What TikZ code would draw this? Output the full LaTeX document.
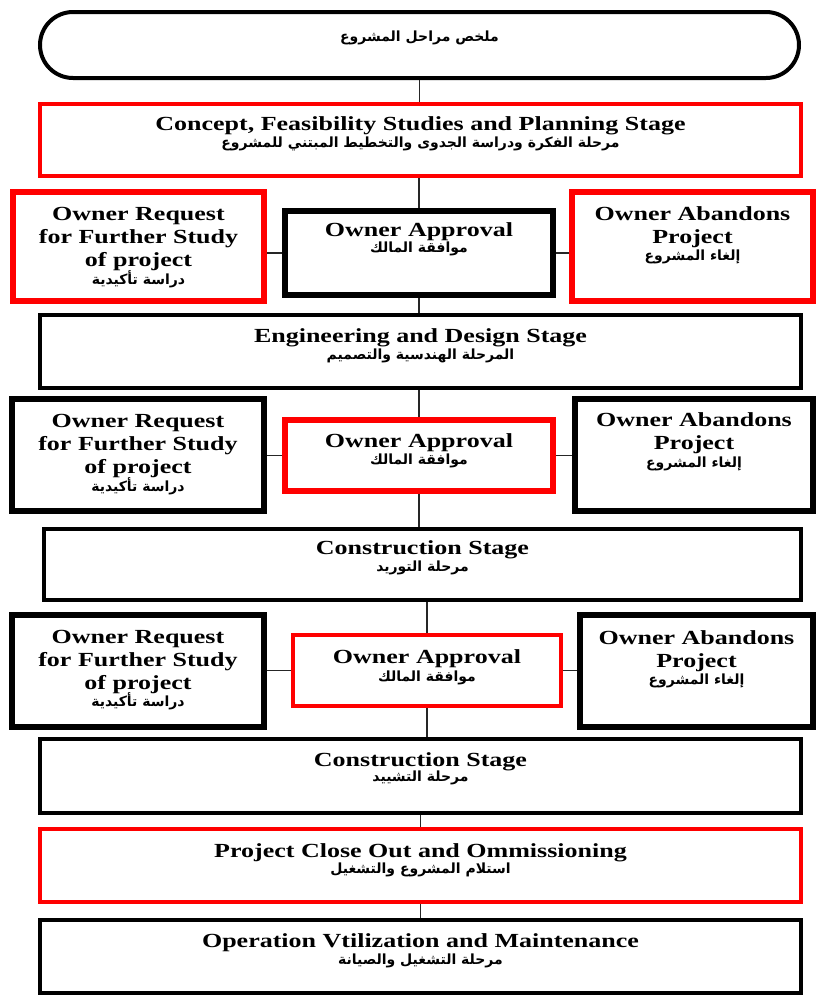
\documentclass[tikz,border=0pt]{standalone}
\usepackage{fontspec}
\setmainfont{Liberation Serif}
\newfontfamily\enfont[FakeStretch=1.3]{Liberation Serif}
\newfontfamily\arfont[Script=Arabic]{DejaVu Sans}
\TeXXeTstate=1
\newcommand\entxt{\enfont\bfseries\fontsize{15}{17.25}\selectfont}
\newcommand\artxt{\arfont\bfseries\fontsize{10.5}{12}\selectfont}
\newcommand\ar[1]{{\artxt\beginR #1\endR}}

\begin{document}
\begin{tikzpicture}[x=0.75pt,y=-0.75pt,
  box/.style 2 args={rectangle, draw, inner sep=0pt,
    minimum width=#1*0.75pt, minimum height=#2*0.75pt},
  blackbox/.style={line width=3.6pt, draw=black},
  redbox/.style={line width=3.6pt, draw=red},
  sidebox/.style={line width=4.2pt},
  entext/.style={inner sep=0pt, align=center, font=\entxt},
  artext/.style={inner sep=0pt},
  link/.style={line width=1.1pt, draw=black!85}]

\useasboundingbox (0,0) rectangle (820,996);
\fill[white] (0,0) rectangle (820,996);

% title
\node[box={759}{66}, line width=3pt, rounded corners=24.75pt] (title) at (419.5,45) {};
\node[artext] (titlet) at (419.5,38) {\ar{ملخص مراحل المشروع}};

% stage 1
\node[box={761}{72}, redbox] (s1) at (420.5,140) {};
\node[entext] (s1en) at (420.5,126) {Concept, Feasibility Studies and Planning Stage};
\node[artext] (s1ar) at (420.5,144) {\ar{مرحلة الفكرة ودراسة الجدوى والتخطيط المبتني للمشروع}};

% row 1
\node[box={251}{109}, redbox, sidebox] (r1L) at (138.5,246.5) {};
\node[entext] (r1Len) at (138.5,239) {Owner Request\\for Further Study\\of project};
\node[artext] (r1Lar) at (138.5,279) {\ar{دراسة تأكيدية}};
\node[box={268}{84}, blackbox, sidebox] (r1C) at (419,253) {};
\node[entext] (r1Cen) at (419,232) {Owner Approval};
\node[artext] (r1Car) at (419,249) {\ar{موافقة المالك}};
\node[box={241}{109}, redbox, sidebox] (r1R) at (692.5,246.5) {};
\node[entext] (r1Ren) at (692.5,227) {Owner Abandons\\Project};
\node[artext] (r1Rar) at (692.5,257) {\ar{إلغاء المشروع}};

% stage 2
\node[box={761}{73}, blackbox] (s2) at (420.5,351.5) {};
\node[entext] (s2en) at (420.5,338) {Engineering and Design Stage};
\node[artext] (s2ar) at (420.5,356) {\ar{المرحلة الهندسية والتصميم}};

% row 2
\node[box={252}{112}, blackbox, sidebox] (r2L) at (138,455) {};
\node[entext] (r2Len) at (138,446) {Owner Request\\for Further Study\\of project};
\node[artext] (r2Lar) at (138,486) {\ar{دراسة تأكيدية}};
\node[box={268}{71}, redbox, sidebox] (r2C) at (419,455.5) {};
\node[entext] (r2Cen) at (419,443) {Owner Approval};
\node[artext] (r2Car) at (419,461) {\ar{موافقة المالك}};
\node[box={238}{112}, blackbox, sidebox] (r2R) at (694,455) {};
\node[entext] (r2Ren) at (694,433) {Owner Abandons\\Project};
\node[artext] (r2Rar) at (694,464) {\ar{إلغاء المشروع}};

% stage 3
\node[box={757}{71}, blackbox] (s3) at (422.5,564.5) {};
\node[entext] (s3en) at (422.5,550) {Construction Stage};
\node[artext] (s3ar) at (422.5,568) {\ar{مرحلة التوريد}};

% row 3
\node[box={252}{112}, blackbox, sidebox] (r3L) at (138,671) {};
\node[entext] (r3Len) at (138,662) {Owner Request\\for Further Study\\of project};
\node[artext] (r3Lar) at (138,701) {\ar{دراسة تأكيدية}};
\node[box={268}{71}, redbox, line width=3pt] (r3C) at (427,670.5) {};
\node[entext] (r3Cen) at (427,659) {Owner Approval};
\node[artext] (r3Car) at (427,678) {\ar{موافقة المالك}};
\node[box={233}{112}, blackbox, sidebox] (r3R) at (696.5,671) {};
\node[entext] (r3Ren) at (696.5,651) {Owner Abandons\\Project};
\node[artext] (r3Rar) at (696.5,681) {\ar{إلغاء المشروع}};

% stage 4
\node[box={761}{74}, blackbox] (s4) at (420.5,776) {};
\node[entext] (s4en) at (420.5,762) {Construction Stage};
\node[artext] (s4ar) at (420.5,778) {\ar{مرحلة التشييد}};

% stage 5
\node[box={761}{73}, redbox] (s5) at (420.5,865.5) {};
\node[entext] (s5en) at (420.5,853) {Project Close Out and Ommissioning};
\node[artext] (s5ar) at (420.5,870) {\ar{استلام المشروع والتشغيل}};

% stage 6
\node[box={761}{73}, blackbox] (s6) at (420.5,956.5) {};
\node[entext] (s6en) at (420.5,943) {Operation Vtilization and Maintenance};
\node[artext] (s6ar) at (420.5,961) {\ar{مرحلة التشغيل والصيانة}};

% vertical trunk
\draw[link] (title.south) -- (title.south |- s1.north);
\draw[link] (s1.south -| r1C.north) -- (r1C.north);
\draw[link] (r1C.south) -- (r1C.south |- s2.north);
\draw[link] (s2.south -| r2C.north) -- (r2C.north);
\draw[link] (r2C.south) -- (r2C.south |- s3.north);
\draw[link] (s3.south -| r3C.north) -- (r3C.north);
\draw[link] (r3C.south) -- (r3C.south |- s4.north);
\draw[link] (s4.south) -- (s4.south |- s5.north);
\draw[link] (s5.south) -- (s5.south |- s6.north);

% side branches
\draw[link] (r1C.west) -- (r1C.west -| r1L.east);
\draw[link] (r1C.east) -- (r1C.east -| r1R.west);
\draw[link] (r2C.west) -- (r2C.west -| r2L.east);
\draw[link] (r2C.east) -- (r2C.east -| r2R.west);
\draw[link] (r3C.west) -- (r3C.west -| r3L.east);
\draw[link] (r3C.east) -- (r3C.east -| r3R.west);
\end{tikzpicture}
\end{document}
